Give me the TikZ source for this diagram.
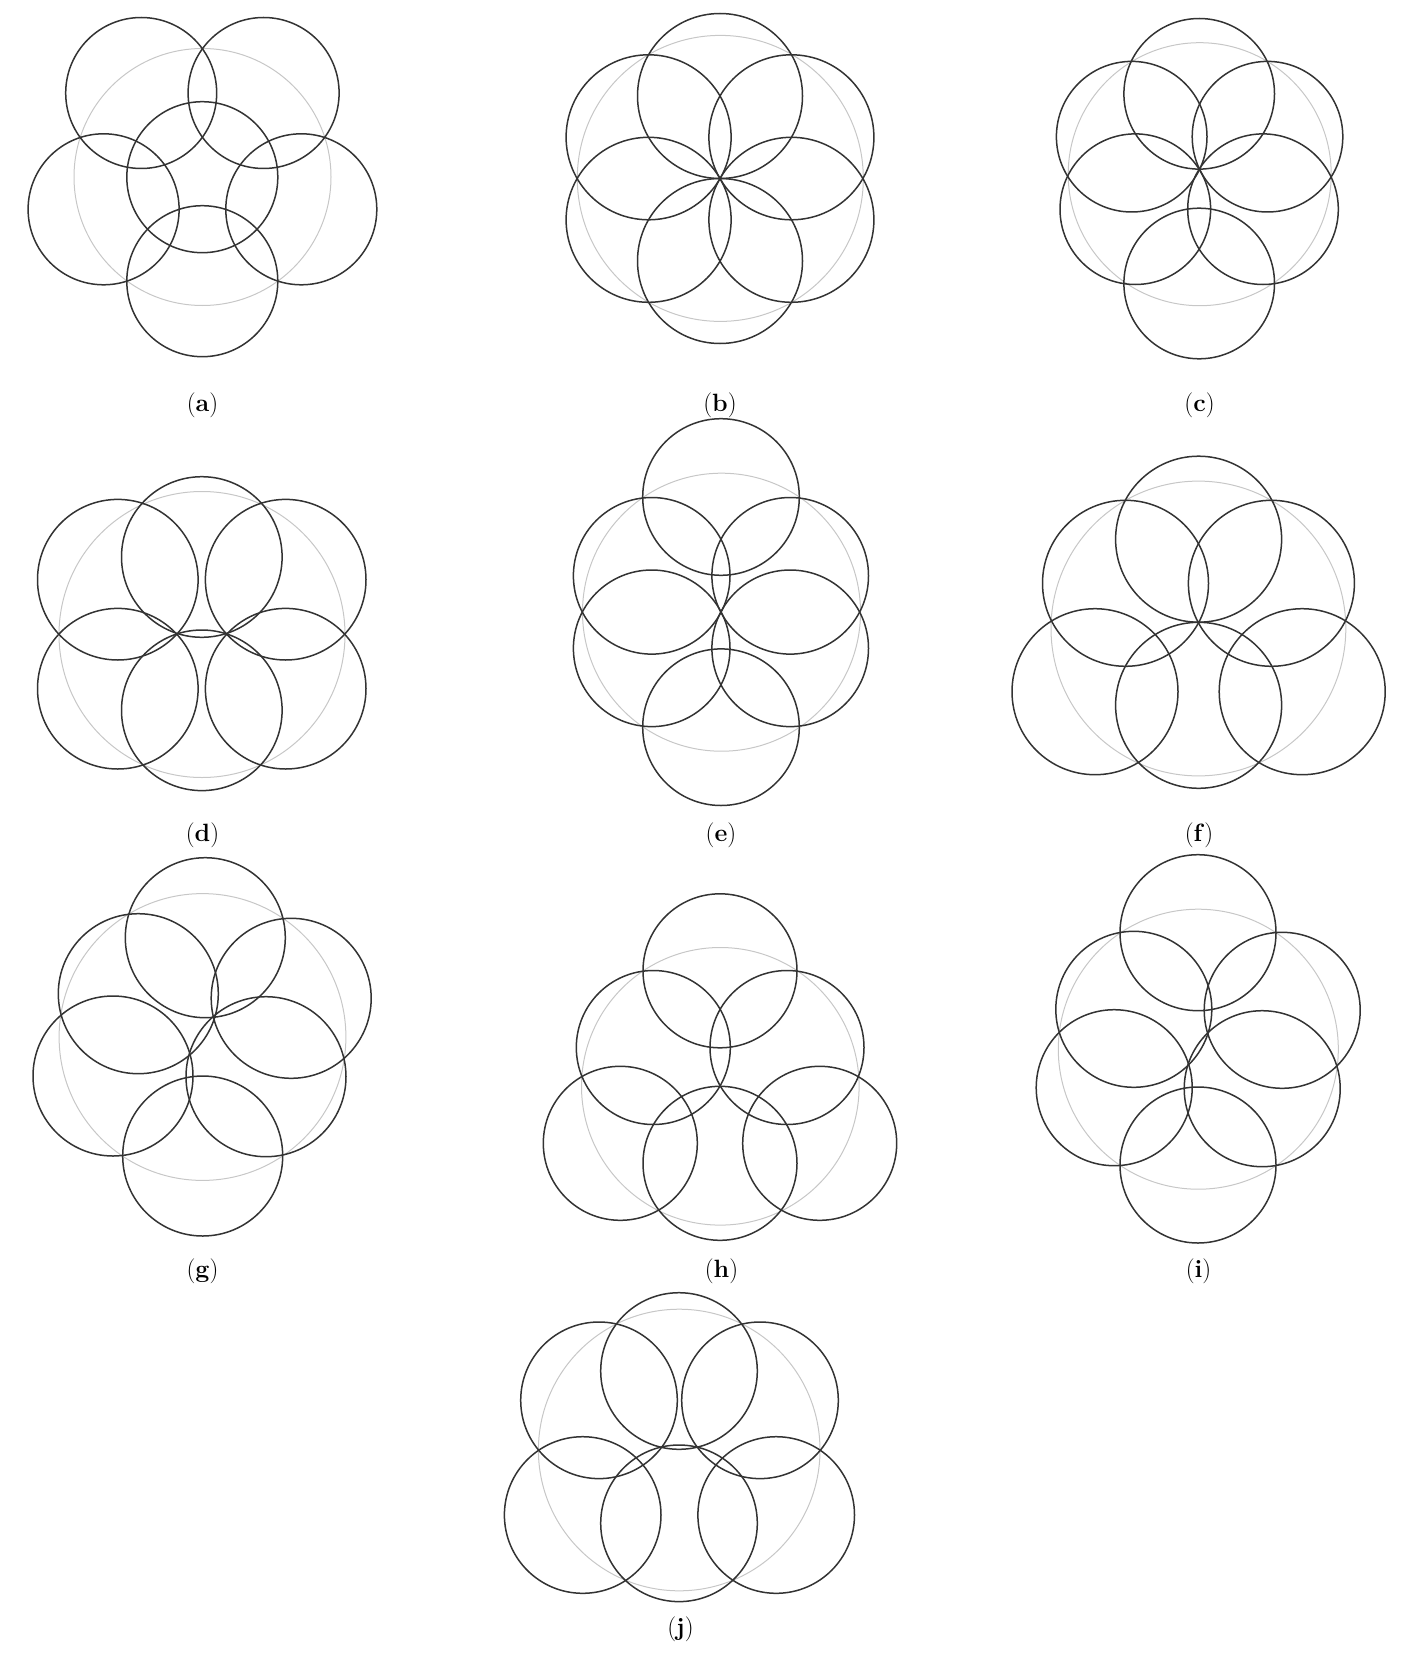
\documentclass[tikz,border=0pt]{standalone}
\tikzset{
  gry/.style={draw=black!22, line width=1pt},
  dk/.style={draw=black!80, line width=1.5pt},
  lbl/.style={inner sep=0pt, font=\fontsize{25}{30}\selectfont}
}
\begin{document}
\begin{tikzpicture}[x=1pt,y=-1pt]
\useasboundingbox (0,0) rectangle (1400,1653);
% (a)
\draw[gry] (202.5,177) circle[radius=128.5pt];
\foreach \p in {(141.2,93),(263.6,93),(202.3,177.2),(103.6,209.3),(301.3,209.3),(202.3,281.2)}
  \draw[dk] \p circle[radius=75.5pt];
% (b)
\draw[gry] (720.3,178.4) circle[radius=143pt];
\foreach \p in {(720,96),(648.6,137.3),(791.4,137.3),(648.6,219.8),(791.4,219.8),(720,261)}
  \draw[dk] \p circle[radius=82.5pt];
% (c)
\draw[gry] (1199.7,174.2) circle[radius=131.5pt];
\foreach \p in {(1199.2,93.8),(1131.7,136.7),(1267.5,136.7),(1135.3,209.2),(1263,209.2),(1199.2,283.5)}
  \draw[dk] \p circle[radius=75.3pt];
% (d)
\draw[gry] (202,634.5) circle[radius=143pt];
\foreach \p in {(201.8,557),(117.8,579.7),(285.7,579.7),(117.8,688.7),(285.7,688.7),(201.8,710.3)}
  \draw[dk] \p circle[radius=80.3pt];
% (e)
\draw[gry] (721.5,612.2) circle[radius=139pt];
\foreach \p in {(721,497),(651.7,575.8),(790.2,575.8),(651.7,648.3),(790.2,648.3),(721,727.2)}
  \draw[dk] \p circle[radius=78.3pt];
% (f)
\draw[gry] (1198.4,628.5) circle[radius=147.4pt];
\foreach \p in {(1198.6,539.2),(1125.5,583.3),(1271.4,583.3),(1095,691.7),(1302.2,691.7),(1198.6,705.3)}
  \draw[dk] \p circle[radius=83pt];
% (g)
\draw[gry] (202.5,1037) circle[radius=143.4pt];
\foreach \p in {(205.3,937.7),(138.3,993.7),(291.2,998.3),(113,1076),(266,1076.7),(202.7,1156)}
  \draw[dk] \p circle[radius=80pt];
% (h)
\draw[gry] (720.3,1086.3) circle[radius=138.8pt];
\foreach \p in {(720,970.8),(653.3,1047.5),(787,1047.5),(620.3,1143.3),(819.7,1143.3),(720,1163.3)}
  \draw[dk] \p circle[radius=77pt];
% (i)
\draw[gry] (1198.3,1049.2) circle[radius=140pt];
\foreach \p in {(1198,932.7),(1133.8,1009.3),(1282.2,1010.3),(1114.2,1087.7),(1262.2,1088.7),(1198,1165)}
  \draw[dk] \p circle[radius=78pt];
% (j)
\draw[gry] (679.2,1450) circle[radius=140.8pt];
\foreach \p in {(679,1371),(599,1400.3),(760,1400.3),(582.7,1515),(776.2,1515),(679,1523.3)}
  \draw[dk] \p circle[radius=78.3pt];
% labels
\node[lbl] (la) at (202.5,405.5) {(\textbf{a})};
\node[lbl] (lb) at (720,405.5) {(\textbf{b})};
\node[lbl] (lc) at (1199.5,405.5) {(\textbf{c})};
\node[lbl] (ld) at (202.5,835) {(\textbf{d})};
\node[lbl] (le) at (721,835) {(\textbf{e})};
\node[lbl] (lf) at (1199,835) {(\textbf{f})};
\node[lbl] (lg) at (202.5,1271.5) {(\textbf{g})};
\node[lbl] (lh) at (721.5,1271.5) {(\textbf{h})};
\node[lbl] (li) at (1198.5,1271.5) {(\textbf{i})};
\node[lbl] (lj) at (680.5,1629.5) {(\textbf{j})};
\end{tikzpicture}
\end{document}
